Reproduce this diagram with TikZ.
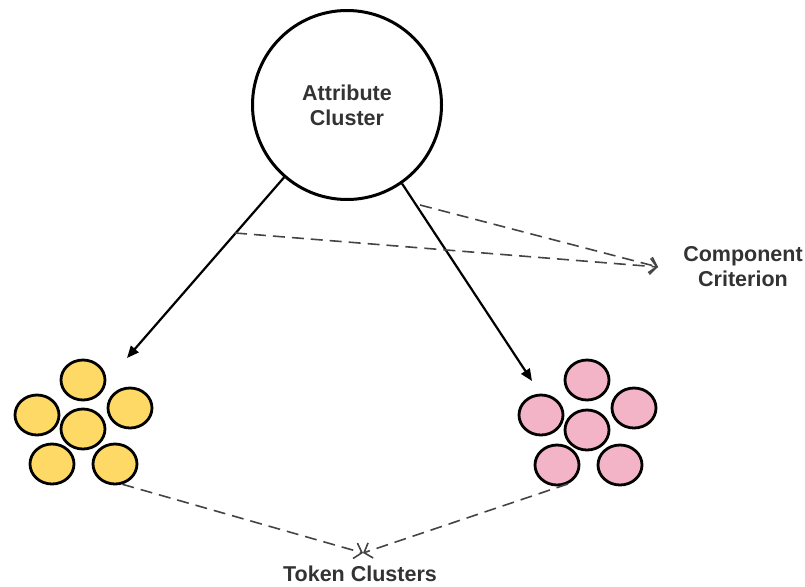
\documentclass[tikz,border=0pt]{standalone}
\usepackage{fontspec}
\setmainfont{Liberation Sans}
\usetikzlibrary{arrows.meta,shapes.geometric}
\definecolor{tokyellow}{HTML}{FFD966}
\definecolor{tokpink}{HTML}{F4B4C8}
\definecolor{lblgray}{HTML}{333333}
\definecolor{dashgray}{HTML}{444444}

\begin{document}
\begin{tikzpicture}[x=1pt,y=-1pt]
  \tikzset{attr/.style = {draw, circle, line width=3pt, minimum size=189pt, inner sep=0pt}}
  \tikzset{tok/.style = {draw, ellipse, line width=2.8pt, minimum width=44pt, minimum height=40pt, inner sep=0pt}}
  \tikzset{lbl/.style = {text=lblgray, font=\bfseries\fontsize{21.5}{25}\selectfont, align=center}}
  \tikzset{solid edge/.style = {line width=2.2pt, -{Triangle[length=12pt,width=10pt]}}}
  \tikzset{crit edge/.style = {dashgray, line width=1.6pt, dash pattern=on 12pt off 7pt, -{Straight Barb[length=7pt,width=16pt]}}}

\useasboundingbox (0,0) rectangle (805,586);

\node[attr, lbl] (ac) at (347,105) {Attribute\\Cluster};

% yellow token cluster
\node[tok, fill=tokyellow] (y1) at (83,380) {};
\node[tok, fill=tokyellow] (y2) at (37,415) {};
\node[tok, fill=tokyellow] (y3) at (130,408) {};
\node[tok, fill=tokyellow] (y4) at (83,429) {};
\node[tok, fill=tokyellow] (y5) at (52,464) {};
\node[tok, fill=tokyellow] (y6) at (115,464) {};

% pink token cluster
\node[tok, fill=tokpink] (p1) at (587,380) {};
\node[tok, fill=tokpink] (p2) at (541,415) {};
\node[tok, fill=tokpink] (p3) at (634,408) {};
\node[tok, fill=tokpink] (p4) at (587,430) {};
\node[tok, fill=tokpink] (p5) at (557,465) {};
\node[tok, fill=tokpink] (p6) at (620,465) {};

\node[lbl] (cc) at (743,267) {Component\\Criterion};
\node[lbl] (tc) at (360,574) {Token Clusters};

\coordinate (lt) at (127,358);
\coordinate (rt) at (532,381);
\coordinate (c1) at (420,205);
\coordinate (c2) at (235,233);
\coordinate (ct) at (658,267);
\coordinate (tt) at (363,553);

    \draw[solid edge] (ac.229) -- (lt);
    \draw[solid edge] (ac.305) -- (rt);

    \draw[crit edge] (c1) -- (ct);
    \draw[crit edge] (c2) -- (ct);

    \draw[crit edge] (y6.290) -- (tt);
    \draw[crit edge] (p5.300) -- (tt);

\end{tikzpicture}
\end{document}
